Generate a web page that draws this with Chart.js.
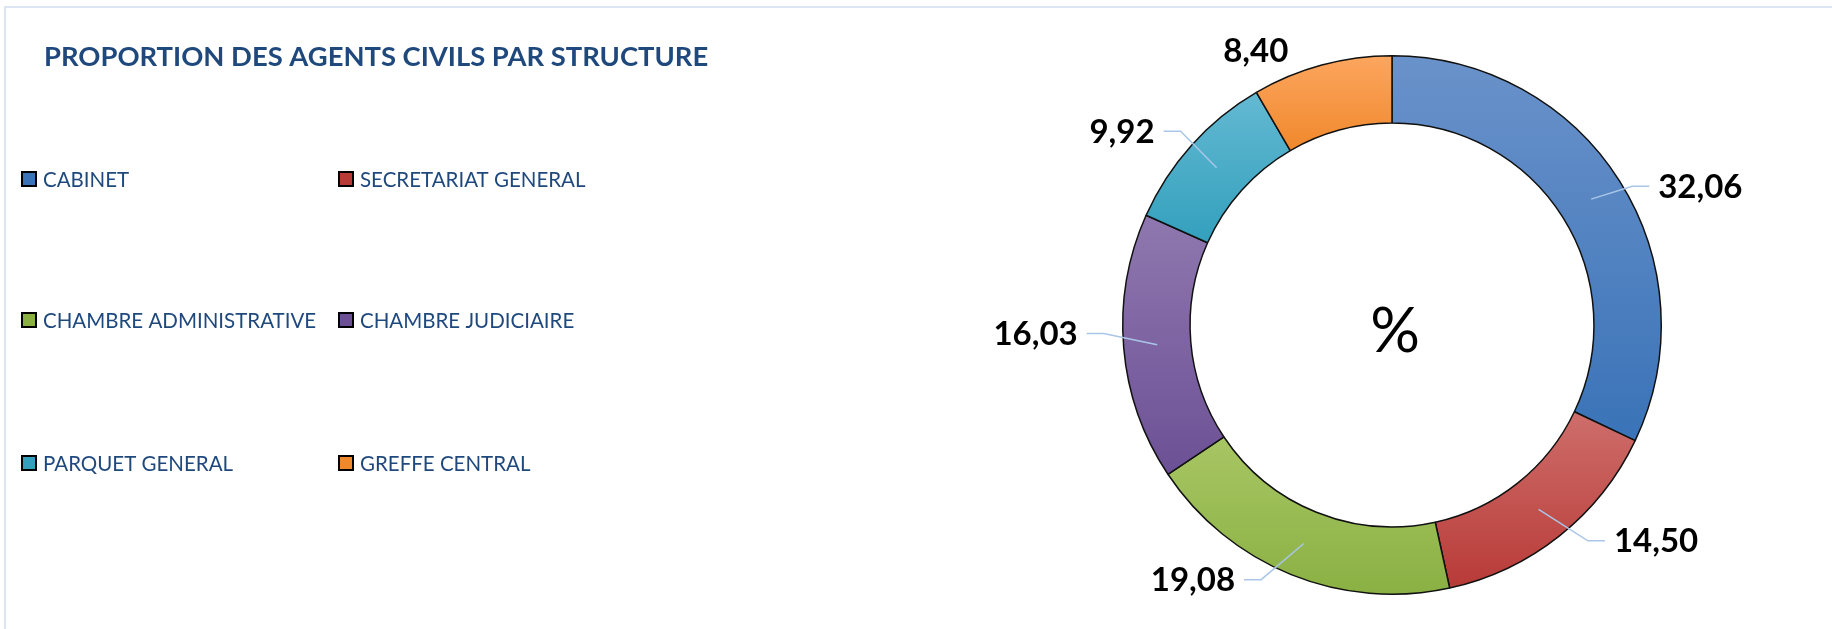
<!DOCTYPE html>
<html>
<head>
<meta charset="utf-8">
<script src="https://cdn.jsdelivr.net/npm/chart.js@4/dist/chart.umd.min.js"></script>
<style>
  html, body { margin: 0; padding: 0; background: #fff; }
  #wrap { position: relative; width: 1832px; height: 629px; overflow: hidden; }
  #frame { position: absolute; left: 4px; top: 6px; width: 1840px; height: 640px;
           border-top: 2px solid #dce6f2; border-left: 2px solid #dce6f2; }
  #chart { position: absolute; left: 0; top: 0; }
</style>
</head>
<body>
<div id="wrap">
  <div id="frame"></div>
  <canvas id="chart" width="1832" height="629"></canvas>
</div>
<script>
// data
const titleText = 'PROPORTION DES AGENTS CIVILS PAR STRUCTURE';
const categories = ['CABINET', 'SECRETARIAT GENERAL', 'CHAMBRE ADMINISTRATIVE',
	'CHAMBRE JUDICIAIRE', 'PARQUET GENERAL', 'GREFFE CENTRAL'];
const shares = [32.06, 14.50, 19.08, 16.03, 9.92, 8.40];
const centerText = '%';

// light (top) and dark (bottom) end of each fill gradient
const colorsTop = ['#6a92ca', '#ce6e6b', '#a8c664', '#8f78af', '#64b9d2', '#fca65f'];
const colorsBottom = ['#3a73b8', '#b83a37', '#8ab043', '#6c5095', '#33a0bd', '#f0882c'];

const textBlue = '#1f497d';
const leaderColor = '#a9c6e8';

// vertical gradient over the bounding box of one ring segment
function segmentGradient(context) {
	const chart = context.chart;
	const i = context.dataIndex;
	const area = chart.chartArea;
	if (!area) return colorsTop[i];
	const cx = (area.left + area.right) / 2;
	const cy = (area.top + area.bottom) / 2;
	const R = Math.min(area.right - area.left, area.bottom - area.top) / 2;
	const r = R * 0.75;
	const total = shares.reduce((a, b) => a + b, 0);
	let before = 0;
	for (let k = 0; k < i; k++) before += shares[k];
	const a0 = before / total * Math.PI * 2 - Math.PI / 2;
	const a1 = a0 + shares[i] / total * Math.PI * 2;
	let minY = Infinity, maxY = -Infinity;
	for (let s = 0; s <= 40; s++) {
		const a = a0 + (a1 - a0) * s / 40;
		[R, r].forEach(rad => {
			const y = cy + Math.sin(a) * rad;
			minY = Math.min(minY, y);
			maxY = Math.max(maxY, y);
		});
	}
	const g = chart.ctx.createLinearGradient(0, minY, 0, maxY);
	g.addColorStop(0, colorsTop[i]);
	g.addColorStop(1, colorsBottom[i]);
	return g;
}

// title and the two-column legend on the left
const sidePlugin = {
	id: 'sidePlugin',
	afterDraw(chart) {
		const ctx = chart.ctx;
		ctx.save();
		ctx.fillStyle = textBlue;
		ctx.font = 'bold 27.4px Lato';
		ctx.textBaseline = 'middle';
		ctx.textAlign = 'left';
		ctx.fillText(titleText, 44, 57);

		const colX = [22, 339];
		const rowY = [179, 320, 463];
		ctx.font = '20.5px Lato';
		categories.forEach((name, i) => {
			const x = colX[i % 2];
			const y = rowY[Math.floor(i / 2)];
			ctx.fillStyle = colorsBottom[i];
			ctx.fillRect(x, y - 7, 14, 14);
			ctx.strokeStyle = '#000';
			ctx.lineWidth = 2;
			ctx.strokeRect(x, y - 7, 14, 14);
			ctx.fillStyle = textBlue;
			ctx.fillText(name, x + 21, y + 1);
		});
		ctx.restore();
	}
};

// value labels with leader lines, and the "%" in the hole
const labelPlugin = {
	id: 'labelPlugin',
	afterDatasetsDraw(chart) {
		const ctx = chart.ctx;
		const meta = chart.getDatasetMeta(0);
		ctx.save();
		meta.data.forEach((arc, i) => {
			const p = arc.getProps(['x', 'y', 'startAngle', 'endAngle', 'innerRadius', 'outerRadius'], true);
			const mid = (p.startAngle + p.endAngle) / 2;
			const cos = Math.cos(mid), sin = Math.sin(mid);
			const txt = shares[i].toFixed(2).replace('.', ',');
			const side = cos >= 0 ? 1 : -1;
			// point on the outer edge at the middle of the segment
			const ox = p.x + cos * p.outerRadius;
			const oy = p.y + sin * p.outerRadius;
			const tx = ox + side * (45 + 12 * sin);
			let ty = oy + ((side > 0 || sin > 0.3) ? 5 : -14);
			ctx.font = 'bold 33px Lato';
			ctx.fillStyle = '#000';
			ctx.textBaseline = 'middle';
			ctx.textAlign = side > 0 ? 'left' : 'right';
			if (Math.abs(cos) < 0.3) {
				// close to the top: label sits near the ring, no leader
				ty = oy - 15;
			} else {
				const rm = (p.innerRadius + p.outerRadius) / 2;
				ctx.strokeStyle = leaderColor;
				ctx.lineWidth = 1.5;
				ctx.beginPath();
				ctx.moveTo(p.x + cos * rm, p.y + sin * rm);
				ctx.lineTo(tx - side * 26, ty);
				ctx.lineTo(tx - side * 9, ty);
				ctx.stroke();
			}
			ctx.fillText(txt, tx, ty + 1);
		});
		const c = meta.data[0];
		ctx.font = '62px Lato';
		ctx.textAlign = 'center';
		ctx.textBaseline = 'middle';
		ctx.fillStyle = '#000';
		ctx.fillText(centerText, c.x + 3, c.y + 7);
		ctx.restore();
	}
};

new Chart(document.getElementById('chart'), {
	type: 'doughnut',
	data: {
		labels: categories,
		datasets: [{
			data: shares,
			backgroundColor: segmentGradient,
			borderColor: '#111',
			borderWidth: 1.5,
			hoverOffset: 0,
			offset: 0
		}]
	},
	options: {
		responsive: false,
		animation: false,
		events: [],
		cutout: '75%',
		layout: {
			padding: { left: 1122, right: 170, top: 55, bottom: 34 }
		},
		plugins: {
			legend: { display: false },
			tooltip: { enabled: false }
		}
	},
	plugins: [sidePlugin, labelPlugin]
});
</script>
</body>
</html>
